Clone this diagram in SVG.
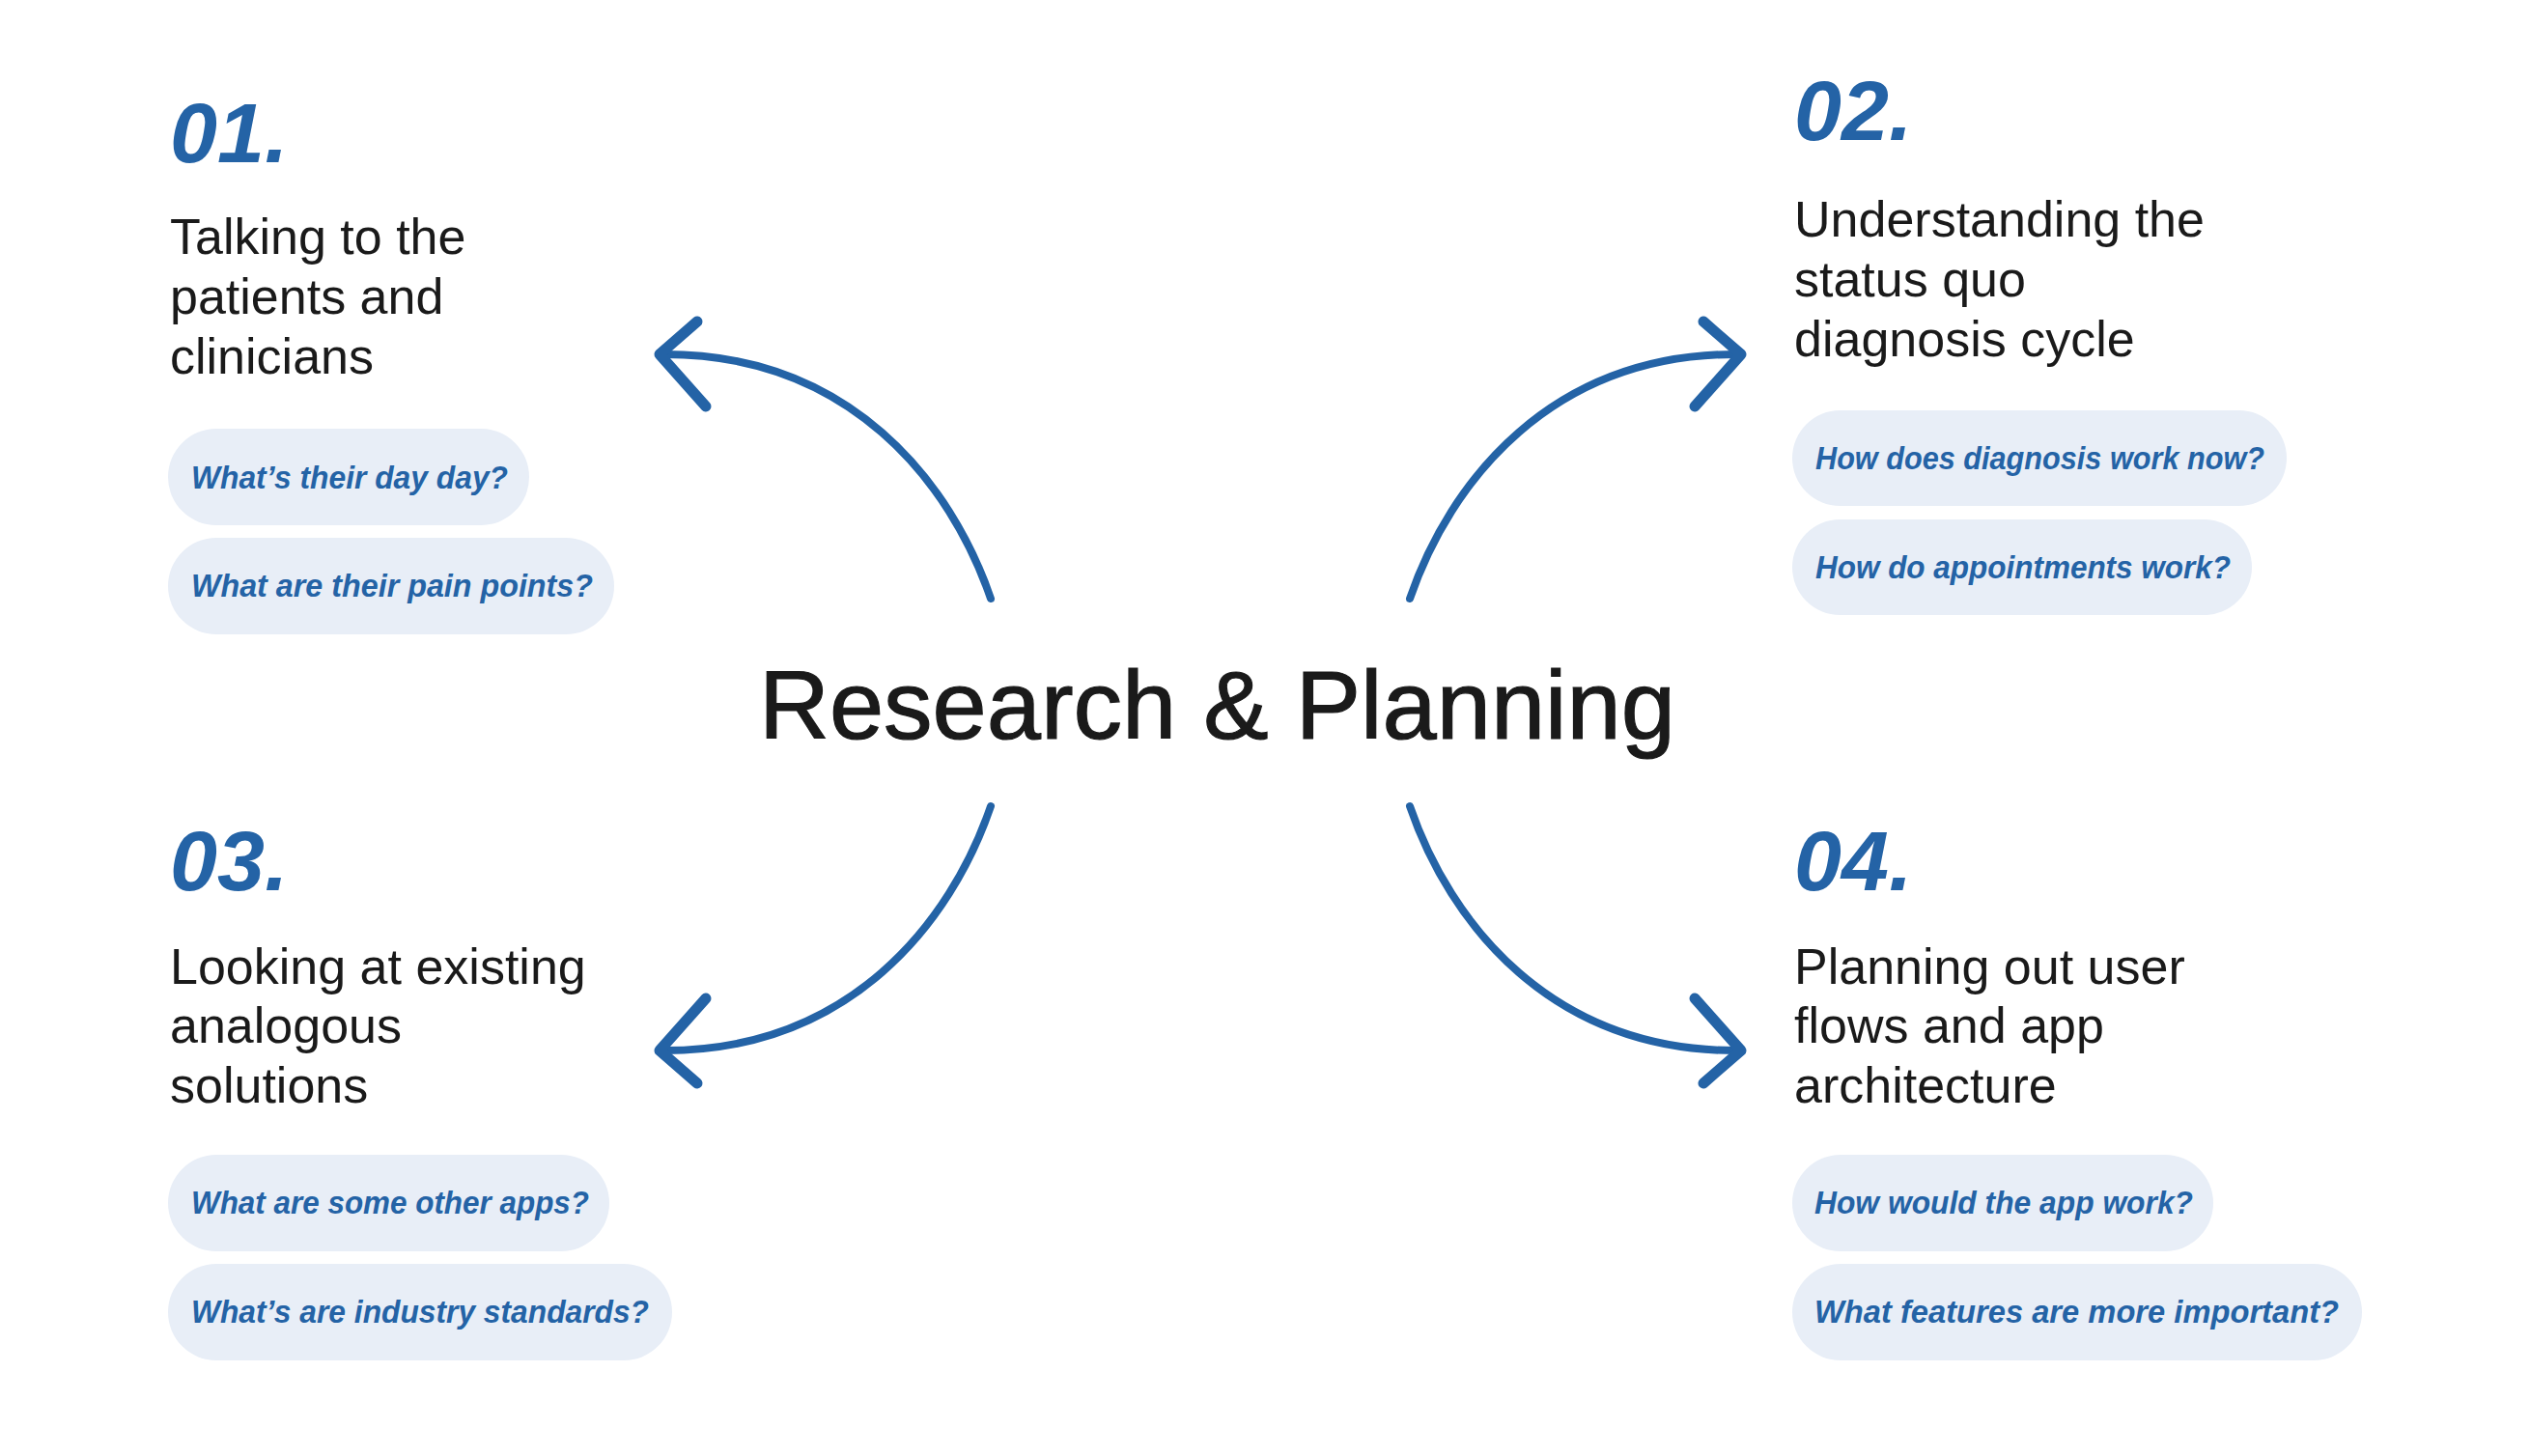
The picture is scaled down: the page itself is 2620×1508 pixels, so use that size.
<svg xmlns="http://www.w3.org/2000/svg" width="2620" height="1508" viewBox="0 0 2620 1508">
<style>
.num{font-family:"Liberation Sans",Arial,sans-serif;font-weight:bold;font-style:italic;font-size:88px;fill:#2463a6}
.ttl{font-family:"Liberation Sans",Arial,sans-serif;font-size:52px;fill:#1a1a1a}
.pill{fill:#e8eef7}
.q{font-family:"Liberation Sans",Arial,sans-serif;font-weight:bold;font-style:italic;font-size:34px;fill:#2463a6}
.center{font-family:"Liberation Sans",Arial,sans-serif;font-size:101px;fill:#1a1a1a;stroke:#1a1a1a;stroke-width:1.2}
.arc{fill:none;stroke:#2463a6;stroke-width:8;stroke-linecap:round}
.head{fill:none;stroke:#2463a6;stroke-width:11;stroke-linecap:round;stroke-linejoin:round}
</style>
<rect width="2620" height="1508" fill="#ffffff"/>
<g id="center">
<text class="center" x="786" y="765">Research &amp; Planning</text>
</g>
<g id="connectors">
<g id="arrow-01">
<path class="arc" d="M1026,620 C985,500 880,365 684,367"/>
<path class="head" d="M722,333 L683,367 L731,421"/>
</g>
<g id="arrow-02" transform="translate(2486,0) scale(-1,1)">
<path class="arc" d="M1026,620 C985,500 880,365 684,367"/>
<path class="head" d="M722,333 L683,367 L731,421"/>
</g>
<g id="arrow-03" transform="translate(0,1455) scale(1,-1)">
<path class="arc" d="M1026,620 C985,500 880,365 684,367"/>
<path class="head" d="M722,333 L683,367 L731,421"/>
</g>
<g id="arrow-04" transform="translate(2486,1455) scale(-1,-1)">
<path class="arc" d="M1026,620 C985,500 880,365 684,367"/>
<path class="head" d="M722,333 L683,367 L731,421"/>
</g>
</g>
<g id="node-01">
<text class="num" x="176" y="168">01.</text>
<text class="ttl" x="176" y="263">Talking to the</text>
<text class="ttl" x="176" y="325">patients and</text>
<text class="ttl" x="176" y="387">clinicians</text>
<rect class="pill" x="174" y="444" width="374" height="100" rx="50"/>
<text class="q" x="198" y="506" textLength="328" lengthAdjust="spacingAndGlyphs">What’s their day day?</text>
<rect class="pill" x="174" y="557" width="462" height="100" rx="50"/>
<text class="q" x="198" y="618" textLength="416" lengthAdjust="spacingAndGlyphs">What are their pain points?</text>
</g>
<g id="node-02">
<text class="num" x="1858" y="145">02.</text>
<text class="ttl" x="1858" y="245">Understanding the</text>
<text class="ttl" x="1858" y="307">status quo</text>
<text class="ttl" x="1858" y="369">diagnosis cycle</text>
<rect class="pill" x="1856" y="425" width="512" height="99" rx="49.5"/>
<text class="q" x="1880" y="486" textLength="465" lengthAdjust="spacingAndGlyphs">How does diagnosis work now?</text>
<rect class="pill" x="1856" y="538" width="476" height="99" rx="49.5"/>
<text class="q" x="1880" y="599" textLength="430" lengthAdjust="spacingAndGlyphs">How do appointments work?</text>
</g>
<g id="node-03">
<text class="num" x="176" y="922">03.</text>
<text class="ttl" x="176" y="1019">Looking at existing</text>
<text class="ttl" x="176" y="1080">analogous</text>
<text class="ttl" x="176" y="1142">solutions</text>
<rect class="pill" x="174" y="1196" width="457" height="100" rx="50"/>
<text class="q" x="198" y="1257" textLength="412" lengthAdjust="spacingAndGlyphs">What are some other apps?</text>
<rect class="pill" x="174" y="1309" width="522" height="100" rx="50"/>
<text class="q" x="198" y="1370" textLength="474" lengthAdjust="spacingAndGlyphs">What’s are industry standards?</text>
</g>
<g id="node-04">
<text class="num" x="1858" y="922">04.</text>
<text class="ttl" x="1858" y="1019">Planning out user</text>
<text class="ttl" x="1858" y="1080">flows and app</text>
<text class="ttl" x="1858" y="1142">architecture</text>
<rect class="pill" x="1856" y="1196" width="436" height="100" rx="50"/>
<text class="q" x="1879" y="1257" textLength="392" lengthAdjust="spacingAndGlyphs">How would the app work?</text>
<rect class="pill" x="1856" y="1309" width="590" height="100" rx="50"/>
<text class="q" x="1879" y="1370" textLength="543" lengthAdjust="spacingAndGlyphs">What features are more important?</text>
</g>
</svg>
